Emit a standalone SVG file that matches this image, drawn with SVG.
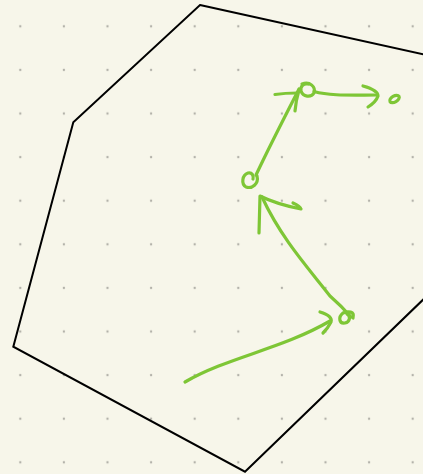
<svg xmlns="http://www.w3.org/2000/svg" width="423" height="474" viewBox="0 0 423 474">
  <defs>
    <pattern id="dots" x="20.3" y="26.3" width="43.6" height="43.6" patternUnits="userSpaceOnUse">
      <circle cx="0" cy="0" r="1.2" fill="#b3b2aa"/>
      <circle cx="43.6" cy="0" r="1.2" fill="#b3b2aa"/>
      <circle cx="0" cy="43.6" r="1.2" fill="#b3b2aa"/>
      <circle cx="43.6" cy="43.6" r="1.2" fill="#b3b2aa"/>
    </pattern>
    <style>
      .ink { fill: none; stroke: #7ec636; stroke-width: 3.2; stroke-linecap: round; stroke-linejoin: round; }
      .shape { fill: none; stroke: #000; stroke-width: 2; stroke-linejoin: miter; }
    </style>
  </defs>
  <rect width="423" height="474" fill="#f7f6ea"/>
  <rect width="423" height="474" fill="url(#dots)"/>
  <g id="region">
    <polygon class="shape" points="200,5 460,62.5 460,264 245,471.7 13.3,346.7 73.3,122.3"/>
  </g>
  <g id="nodes">
    <g id="node-a"><path class="ink" d="M353,318 C355,311 348,311 343,313 C338,317 339,324 345,323 C350,322 351,316 347,314"/></g>
    <g id="node-b"><path class="ink" d="M257,176 C259,184 252,189 246,187 C241,184 242,175 248,173 C252,172 254,176 253,179"/></g>
    <g id="node-c"><path class="ink" d="M302,84 C310,81 316,87 314,93 C311,98 303,97 301,91 C300,86 304,83 308,84"/></g>
    <g id="node-d"><ellipse class="ink" cx="394.5" cy="99" rx="5.2" ry="3" transform="rotate(-30 394.5 99)"/></g>
  </g>
  <g id="connectors">
    <path class="ink" d="M185,382 C228,357 282,349 330,321"/>
    <path class="ink" d="M320,312 Q333,316 331,322 Q328,328 323,333"/>
    <path class="ink" d="M351,317 C345,310 338,303 330,296 C310,270 282,240 262,197"/>
    <path class="ink" d="M259,233 L260,196 Q276,204 301,209 Q300,206 293,203"/>
    <path class="ink" d="M256,175 C264,158 280,126 299,89"/>
    <path class="ink" d="M275,94.5 Q285,93 297,93"/>
    <path class="ink" d="M299,90 Q296,100 295,111"/>
    <path class="ink" d="M314,91.5 C330,96 350,95 377,95"/>
    <path class="ink" d="M363,86 Q378,90 378,96 Q376,102 368,107"/>
  </g>
</svg>
